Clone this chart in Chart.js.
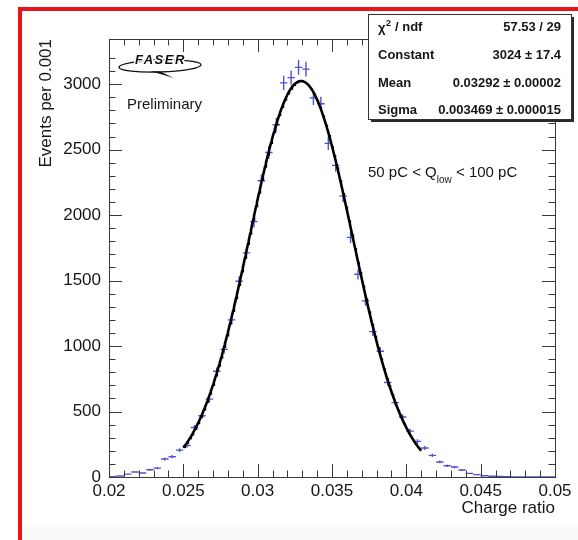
<!DOCTYPE html>
<html>
<head>
<meta charset="utf-8">
<title>Charge ratio</title>
<script src="https://cdn.jsdelivr.net/npm/chart.js@4.4.1/dist/chart.umd.min.js"></script>
<style>
  html, body { margin: 0; padding: 0; background: #fff; }
  canvas { display: block; }
</style>
</head>
<body>
<canvas id="ratio-chart" width="578" height="540"></canvas>
<script>
// histogram binning
const xMin = 0.02;
const xMax = 0.05;
const yMax = 3345;
const binWidth = 0.0005;

// events per bin, 60 bins between 0.02 and 0.05
const counts = [
  3, 8, 22, 38, 30, 55, 68, 138, 155, 205,
  240, 378, 468, 595, 808, 975, 1200, 1495, 1712, 1950,
  2262, 2478, 2690, 3010, 3050, 3128, 3115, 2895, 2850, 2548,
  2380, 2145, 1830, 1548, 1345, 1110, 960, 722, 568, 458,
  350, 272, 222, 165, 115, 86, 76, 54, 28, 18,
  10, 6, 4, 2, 1, 1, 0, 0, 0, 0
];

const xTickLabels = ["0.02", "0.025", "0.03", "0.035", "0.04", "0.045", "0.05"];
const yTickLabels = ["0", "500", "1000", "1500", "2000", "2500", "3000"];

// gaussian fit result
const fitRange = [0.025, 0.041];
const fitConstant = 3024;
const fitMean = 0.03292;
const fitSigma = 0.003469;

const statNames = ["ndf", "Constant", "Mean", "Sigma"];
const statValues = ["57.53 / 29", "3024 \u00b1 17.4", "0.03292 \u00b1 0.00002", "0.003469 \u00b1 0.000015"];

const DATA_COLOR = "rgb(82, 82, 208)";
const TEXT_COLOR = "#161616";
const FONT = "'Liberation Sans', Arial, Helvetica, sans-serif";

const points = counts.map((n, i) => ({ x: xMin + (i + 0.5) * binWidth, y: n }));

const fitPoints = [];
for (let x = fitRange[0]; x <= fitRange[1] + 1e-9; x += 0.00005) {
  const z = (x - fitMean) / fitSigma;
  fitPoints.push({ x: x, y: fitConstant * Math.exp(-0.5 * z * z) });
}

// white page, faint strip at the bottom
const page = {
  id: "page",
  beforeDraw(chart) {
    const ctx = chart.ctx;
    ctx.save();
    ctx.fillStyle = "#fff";
    ctx.fillRect(0, 0, chart.width, chart.height);
    ctx.fillStyle = "#f9f9f9";
    ctx.fillRect(22, 527, chart.width, chart.height - 527);
    ctx.restore();
  }
};

// crosses: bin width horizontally, sqrt(N) vertically
const errorBars = {
  id: "errorBars",
  beforeDatasetsDraw(chart) {
    const { ctx, scales: { x, y } } = chart;
    const meta = chart.getDatasetMeta(0);
    ctx.save();
    ctx.strokeStyle = DATA_COLOR;
    ctx.lineWidth = 1.4;
    ctx.beginPath();
    meta.data.forEach((pt, i) => {
      const n = counts[i];
      const c = points[i].x;
      const x0 = x.getPixelForValue(c - binWidth / 2);
      const x1 = x.getPixelForValue(c + binWidth / 2);
      ctx.moveTo(x0, pt.y);
      ctx.lineTo(x1, pt.y);
      if (n > 0) {
        const e = Math.sqrt(n);
        ctx.moveTo(pt.x, y.getPixelForValue(n + e));
        ctx.lineTo(pt.x, y.getPixelForValue(n - e));
      }
    });
    ctx.stroke();
    ctx.restore();
  }
};

// frame with inward ticks on all four sides
const frame = {
  id: "frame",
  afterDatasetsDraw(chart) {
    const { ctx, chartArea: a, scales: { x, y } } = chart;
    ctx.save();
    ctx.strokeStyle = "#3a3a3a";
    ctx.lineWidth = 1;
    ctx.strokeRect(Math.round(a.left) + 0.5, Math.round(a.top) + 0.5,
      Math.round(a.right - a.left), Math.round(a.bottom - a.top));
    ctx.beginPath();
    x.ticks.forEach(t => {
      const k = Math.round(t.value * 1000);
      if (Math.abs(t.value * 1000 - k) > 1e-6) return;
      const len = k % 5 === 0 ? 13 : 6.5;
      const px = Math.round(x.getPixelForValue(t.value)) + 0.5;
      ctx.moveTo(px, a.bottom);
      ctx.lineTo(px, a.bottom - len);
      ctx.moveTo(px, a.top);
      ctx.lineTo(px, a.top + len);
    });
    y.ticks.forEach(t => {
      if (t.value % 100 !== 0) return;
      const len = t.value % 500 === 0 ? 13 : 6.5;
      const py = Math.round(y.getPixelForValue(t.value)) + 0.5;
      ctx.moveTo(a.left, py);
      ctx.lineTo(a.left + len, py);
      ctx.moveTo(a.right, py);
      ctx.lineTo(a.right - len, py);
    });
    ctx.stroke();
    ctx.restore();
  }
};

// logo, labels, fit statistics box, red outline
const overlay = {
  id: "overlay",
  afterDraw(chart) {
    const ctx = chart.ctx;
    ctx.save();

    // FASER logo
    ctx.strokeStyle = "#111";
    ctx.lineWidth = 1.4;
    ctx.beginPath();
    ctx.ellipse(160, 66, 41, 6, -0.03, 0, Math.PI * 2);
    ctx.stroke();
    ctx.fillStyle = "#111";
    ctx.beginPath();
    ctx.moveTo(150, 71);
    ctx.lineTo(174, 78);
    ctx.lineTo(160, 71.5);
    ctx.closePath();
    ctx.fill();
    ctx.font = "italic bold 13px " + FONT;
    ctx.letterSpacing = "1.5px";
    ctx.textAlign = "left";
    ctx.textBaseline = "alphabetic";
    ctx.lineWidth = 3;
    ctx.strokeStyle = "#fff";
    ctx.strokeText("FASER", 135, 64);
    ctx.fillText("FASER", 135, 64);
    ctx.letterSpacing = "0px";

    ctx.fillStyle = TEXT_COLOR;
    ctx.font = "15px " + FONT;
    ctx.fillText("Preliminary", 127, 109);

    // selection label with subscript
    let tx = 368;
    const base = 177;
    ctx.fillText("50 pC < Q", tx, base);
    tx += ctx.measureText("50 pC < Q").width;
    ctx.font = "10px " + FONT;
    ctx.fillText("low", tx, base + 6);
    tx += ctx.measureText("low").width;
    ctx.font = "15px " + FONT;
    ctx.fillText(" < 100 pC", tx, base);

    // stats box
    const bx = 368, by = 14, bw = 203, bh = 105;
    ctx.fillStyle = "#2a2a2a";
    ctx.fillRect(bx + 3, by + 3, bw, bh);
    ctx.fillStyle = "#fff";
    ctx.fillRect(bx, by, bw, bh);
    ctx.strokeStyle = "#333";
    ctx.lineWidth = 1;
    ctx.strokeRect(bx + 0.5, by + 0.5, bw, bh);

    const rowY = [27, 55, 83, 110];
    ctx.fillStyle = TEXT_COLOR;
    ctx.textBaseline = "middle";
    ctx.font = "bold 13px " + FONT;
    statNames.forEach((name, i) => {
      ctx.textAlign = "left";
      if (i === 0) {
        ctx.fillText("\u03c7", 378, rowY[i] + 1);
        ctx.font = "bold 9px " + FONT;
        ctx.fillText("2", 386, rowY[i] - 3);
        ctx.font = "bold 13px " + FONT;
        ctx.fillText("/ " + name, 395, rowY[i]);
      } else {
        ctx.fillText(name, 378, rowY[i]);
      }
      ctx.textAlign = "right";
      ctx.fillText(statValues[i], 561, rowY[i]);
    });

    // red outline
    ctx.strokeStyle = "#e8141c";
    ctx.lineWidth = 4;
    ctx.strokeRect(20, 9, 700, 700);
    ctx.restore();
  }
};

const ctx = document.getElementById("ratio-chart").getContext("2d");

window.ratioChart = new Chart(ctx, {
  type: "scatter",
  data: {
    datasets: [
      {
        label: "data",
        data: points,
        pointRadius: 0,
        borderColor: DATA_COLOR,
        backgroundColor: DATA_COLOR,
      },
      {
        label: "gaus fit",
        data: fitPoints,
        showLine: true,
        pointRadius: 0,
        borderColor: "#000",
        borderWidth: 2.6,
        tension: 0,
        fill: false,
      },
    ],
  },
  options: {
    responsive: false,
    animation: false,
    events: [],
    layout: {
      padding: { top: 39, right: 23, left: 0, bottom: 0 },
    },
    plugins: {
      legend: { display: false },
      tooltip: { enabled: false },
    },
    scales: {
      x: {
        type: "linear",
        min: xMin,
        max: xMax,
        grid: { display: false, drawTicks: false },
        border: { display: false },
        ticks: {
          stepSize: 0.001,
          autoSkip: false,
          maxRotation: 0,
          maxTicksLimit: 100,
          padding: 4,
          color: TEXT_COLOR,
          font: { family: FONT, size: 17 },
          callback: (v) => {
            const s = String(+Number(v).toFixed(3));
            return xTickLabels.includes(s) ? s : "";
          },
        },
        title: {
          display: true,
          text: "Charge ratio",
          align: "end",
          color: TEXT_COLOR,
          font: { family: FONT, size: 17 },
          padding: { top: 0, bottom: 21 },
        },
        afterFit: (scale) => { scale.height = 63; },
      },
      y: {
        type: "linear",
        min: 0,
        max: yMax,
        grid: { display: false, drawTicks: false },
        border: { display: false },
        ticks: {
          stepSize: 100,
          autoSkip: false,
          maxTicksLimit: 100,
          padding: 8,
          color: TEXT_COLOR,
          font: { family: FONT, size: 17 },
          callback: (v) => {
            const s = String(Math.round(v));
            return Math.abs(v - Math.round(v)) < 1e-6 && yTickLabels.includes(s) ? s : "";
          },
        },
        title: {
          display: true,
          text: "Events per 0.001",
          align: "end",
          color: TEXT_COLOR,
          font: { family: FONT, size: 17 },
          padding: { top: 36, bottom: 0 },
        },
        afterFit: (scale) => { scale.width = 109; },
      },
    },
  },
  plugins: [page, errorBars, frame, overlay],
});
</script>
</body>
</html>
